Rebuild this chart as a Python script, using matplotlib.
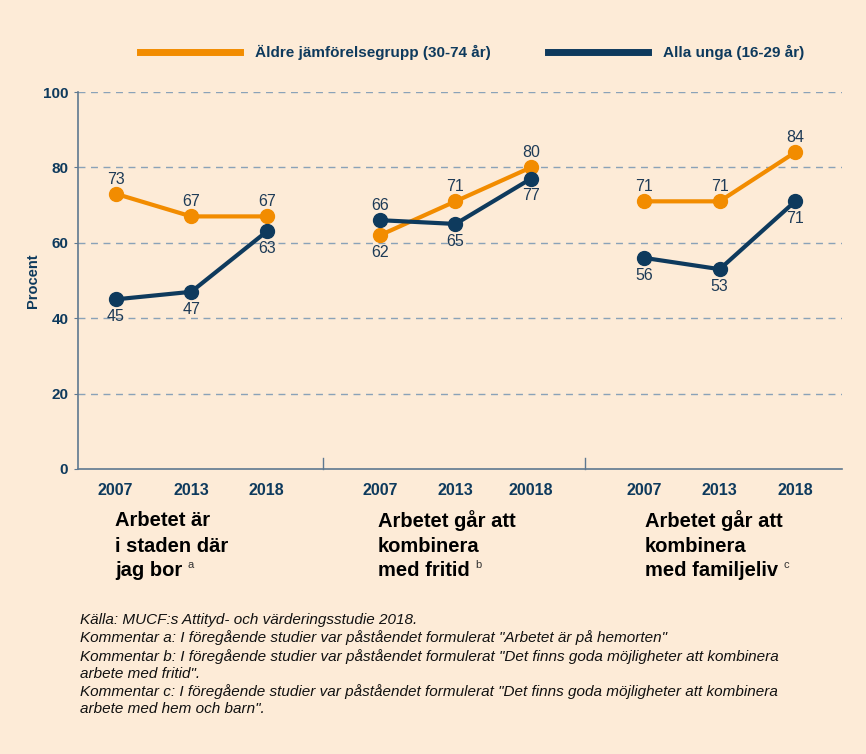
import matplotlib
matplotlib.use("Agg")
import matplotlib.pyplot as plt

plt.rcParams['font.family'] = ['Liberation Sans', 'DejaVu Sans']

# --- data ---
years = ["2007", "2013", "2018", "2007", "2013", "20018", "2007", "2013", "2018"]
groups = [["Arbetet är", "i staden där", "jag bor"],
          ["Arbetet går att", "kombinera", "med fritid"],
          ["Arbetet går att", "kombinera", "med familjeliv"]]
group_marks = ["a", "b", "c"]
aldre = [[73, 67, 67], [62, 71, 80], [71, 71, 84]]
unga = [[45, 47, 63], [66, 65, 77], [56, 53, 71]]
# label side: +1 above, -1 below
aldre_side = [[1, 1, 1], [-1, 1, 1], [1, 1, 1]]
unga_side = [[-1, -1, -1], [1, -1, -1], [-1, -1, -1]]
serie_namn = ["Äldre jämförelsegrupp (30-74 år)", "Alla unga (16-29 år)"]

BG = '#FDEBD7'
ORANGE = '#F28C00'
NAVY = '#0E3A5D'
AXC = '#5E7890'
GRID = '#8AA2B8'
TXT = '#1E3B57'

starts = [0, 3.5, 7]
xpos = [s + i for s in starts for i in range(3)]

fig = plt.figure(figsize=(8.66, 7.54), dpi=100, facecolor=BG)
ax = fig.add_axes([78 / 866, 1 - 469 / 754, (842 - 78) / 866, (469 - 92) / 754])
ax.set_facecolor(BG)
ax.set_xlim(-0.5, 9.62)
ax.set_ylim(0, 100)

for y in [20, 40, 60, 80, 100]:
    ax.axhline(y, color=GRID, lw=1, ls=(0, (5, 4)), zorder=1)

for k in range(3):
    xs = [starts[k] + i for i in range(3)]
    ax.plot(xs, aldre[k], color=ORANGE, lw=3, marker='o', ms=10, zorder=3, solid_capstyle='round')
    ax.plot(xs, unga[k], color=NAVY, lw=3, marker='o', ms=10, zorder=4, solid_capstyle='round')
    for i in range(3):
        for vals, sides in [(aldre, aldre_side), (unga, unga_side)]:
            v = vals[k][i]
            s = sides[k][i]
            ax.annotate(str(v), (xs[i], v), xytext=(0, 5 if s > 0 else -7), textcoords='offset points',
                        ha='center', va='bottom' if s > 0 else 'top', fontsize=11.5,
                        color=TXT, zorder=5)

# separators
for xsep in [2.75, 6.22]:
    ax.plot([xsep, xsep], [0, 2.8], color=AXC, lw=1, clip_on=False)

for sp in ['top', 'right']:
    ax.spines[sp].set_visible(False)
for sp in ['left', 'bottom']:
    ax.spines[sp].set_color(AXC)
    ax.spines[sp].set_linewidth(1.2)

ax.set_xticks(xpos)
ax.set_xticklabels(years, fontsize=11.5, fontweight='bold', color=NAVY)
ax.tick_params(axis='x', length=0, pad=10)
ax.set_yticks([0, 20, 40, 60, 80, 100])
ax.set_yticklabels(['0', '20', '40', '60', '80', '100'], fontsize=11, fontweight='bold', color=NAVY)
ax.tick_params(axis='y', length=3, color=AXC, pad=4)
ax.set_ylabel("Procent", fontsize=10.5, fontweight='bold', color=NAVY, labelpad=2)

# group titles, one line at a time, superscript after the last line
title_x = [115, 378, 645]
line_y = [521, 546, 570]
for k in range(3):
    last = None
    for j, rad in enumerate(groups[k]):
        last = fig.text(title_x[k] / 866, 1 - line_y[j] / 754, rad, fontsize=14.5, fontweight='bold',
                        color='black', ha='left', va='center')
    ax.annotate(group_marks[k], xy=(1, 1), xycoords=last, xytext=(4, 0), textcoords='offset points',
                fontsize=8, color='#333333', ha='left', va='top', annotation_clip=False)

# legend
fig.add_artist(plt.Line2D([140 / 866, 240 / 866], [1 - 52 / 754] * 2, color=ORANGE, lw=5))
fig.text(255 / 866, 1 - 52 / 754, serie_namn[0], fontsize=11, fontweight='bold', color=NAVY, va='center')
fig.add_artist(plt.Line2D([548 / 866, 648 / 866], [1 - 52 / 754] * 2, color=NAVY, lw=5))
fig.text(663 / 866, 1 - 52 / 754, serie_namn[1], fontsize=11, fontweight='bold', color=NAVY, va='center')

notes = ("Källa: MUCF:s Attityd- och värderingsstudie 2018.\n"
         "Kommentar a: I föregående studier var påståendet formulerat \"Arbetet är på hemorten\"\n"
         "Kommentar b: I föregående studier var påståendet formulerat \"Det finns goda möjligheter att kombinera\n"
         "arbete med fritid\".\n"
         "Kommentar c: I föregående studier var påståendet formulerat \"Det finns goda möjligheter att kombinera\n"
         "arbete med hem och barn\".")
fig.text(80 / 866, 1 - 613 / 754, notes, fontsize=11, style='italic', color='#111111',
         ha='left', va='top', linespacing=1.28)

fig.savefig("out.png", dpi=100, facecolor=BG)
